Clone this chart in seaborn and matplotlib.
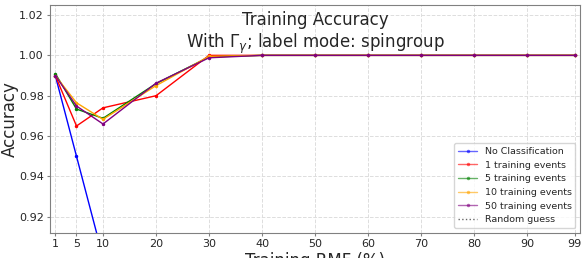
import matplotlib
matplotlib.use("Agg")
import matplotlib.pyplot as plt
import numpy as np
import pandas as pd
import seaborn as sns

rmf = [1, 5, 10, 20, 30, 40, 50, 60, 70, 80, 90, 99]
no_class = [0.99, 0.95, 0.90, 0.80, 0.70, 0.60, 0.50, 0.40, 0.30, 0.20, 0.10, 0.01]
ev1 = [0.990, 0.965, 0.974, 0.980, 1.000, 1.000, 1.000, 1.000, 1.000, 1.000, 1.000, 1.000]
ev5 = [0.991, 0.9734, 0.9688, 0.986, 0.9992, 1.000, 1.000, 1.000, 1.000, 1.000, 1.000, 1.000]
ev10 = [0.990, 0.9765, 0.9683, 0.985, 0.9995, 1.000, 1.000, 1.000, 1.000, 1.000, 1.000, 1.000]
ev50 = [0.990, 0.9749, 0.966, 0.9862, 0.9988, 1.000, 1.000, 1.000, 1.000, 1.000, 1.000, 1.000]
random_guess = 0.5

names = ["No Classification", "1 training events", "5 training events",
         "10 training events", "50 training events"]
colors = ["blue", "red", "green", "orange", "purple"]

df = pd.DataFrame({
    "rmf": rmf * 5,
    "acc": no_class + ev1 + ev5 + ev10 + ev50,
    "series": [n for n in names for _ in rmf],
})

sns.set_style("white")
plt.rcParams["font.family"] = ["DejaVu Sans"]

fig = plt.figure(figsize=(5.86, 2.58), dpi=100)
ax = fig.add_axes([0.0853, 0.097, 0.9047, 0.884])

sns.lineplot(data=df, x="rmf", y="acc", hue="series", palette=colors,
             hue_order=names, marker="o", markersize=2.5, markeredgewidth=0,
             linewidth=1, ax=ax)
ax.axhline(random_guess, color="black", ls=":", lw=1, label="Random guess")

ax.set_xlim(0, 100)
ax.set_ylim(0.912, 1.025)
ax.set_xticks(rmf)
ax.set_yticks([0.92, 0.94, 0.96, 0.98, 1.00, 1.02])
ax.tick_params(labelsize=8, length=2.5, pad=2, color="gray", left=True, bottom=True)
ax.grid(True, ls="--", color="#dddddd", lw=0.7)
for s in ax.spines.values():
    s.set_color("gray")

ax.set_xlabel("Training RMF (%)", fontsize=12, labelpad=2)
ax.set_ylabel("Accuracy", fontsize=12)
ax.yaxis.set_label_coords(-0.058, 0.5)
ax.text(0.5, 0.975, "Training Accuracy\nWith $\\Gamma_\\gamma$; label mode: spingroup",
        transform=ax.transAxes, ha="center", va="top", fontsize=12)

leg = ax.legend(loc="lower right", fontsize=6.8, frameon=True,
                handlelength=2.0, handletextpad=0.8)
for h in leg.legend_handles:
    h.set_alpha(0.6)

fig.savefig("out.png", dpi=100)
